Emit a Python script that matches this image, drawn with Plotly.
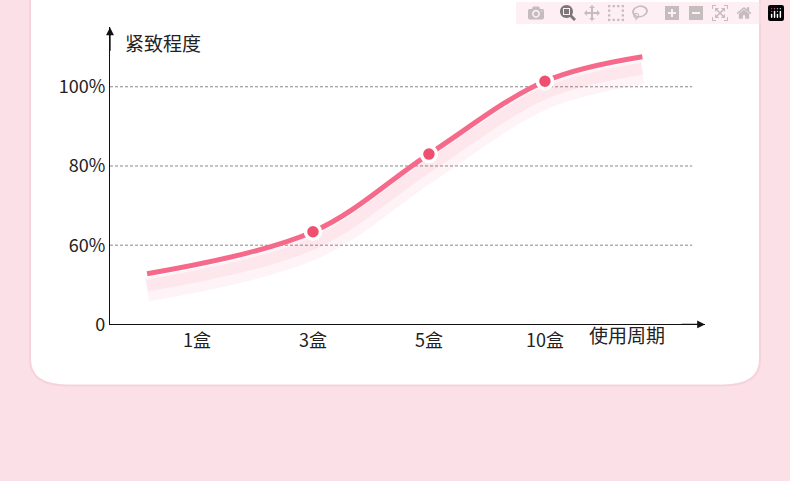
import plotly.graph_objects as go

# data (y in axis "levels": 0 -> 0, 1 -> 60%, 2 -> 80%, 3 -> 100%)
tick_vals = [0, 1, 2, 3]
tick_text = ["0", "60%", "80%", "100%"]
x_pos = [1, 2, 3, 4]
x_labels = ["1盒", "3盒", "5盒", "10盒"]
curve_x = [0.57, 2, 3, 4, 4.84]
curve_y = [0.64, 1.17, 2.15, 3.07, 3.38]
point_x = [2, 3, 4]
point_y = [1.17, 2.15, 3.07]

FONT = "Noto Sans CJK SC"
fig = go.Figure()

# soft shadow under the curve
fig.add_trace(go.Scatter(x=curve_x, y=[v - 0.2 for v in curve_y], mode="lines",
                         line=dict(shape="spline", color="rgba(245,90,125,0.07)", width=24),
                         hoverinfo="skip"))
fig.add_trace(go.Scatter(x=curve_x, y=[v - 0.15 for v in curve_y], mode="lines",
                         line=dict(shape="spline", color="rgba(245,90,125,0.08)", width=12),
                         hoverinfo="skip"))
fig.add_trace(go.Scatter(x=curve_x, y=curve_y, mode="lines",
                         line=dict(shape="spline", color="#f7698a", width=5),
                         hoverinfo="skip"))
fig.add_trace(go.Scatter(x=point_x, y=point_y, mode="markers",
                         marker=dict(size=15, color="#f0506f",
                                     line=dict(color="white", width=3.5))))

shapes = [
    # white card
    dict(type="path", xref="paper", yref="paper", layer="below",
         path="M 0.038 1.05 L 0.038 0.235 Q 0.038 0.18 0.085 0.18 L 0.915 0.18 "
              "Q 0.962 0.18 0.962 0.235 L 0.962 1.05 Z",
         fillcolor="white", line=dict(color="#f6d3dc", width=2)),
]
for v in tick_vals[1:]:
    shapes.append(dict(type="line", xref="x", yref="y", x0=0.25, x1=5.27, y0=v, y1=v,
                       line=dict(color="#888", width=1, dash="3px,2px"), layer="below"))
fig.update_layout(shapes=shapes)

annotations = [
    dict(x=5.38, y=0, xref="x", yref="y", ax=-25, ay=0, text="", showarrow=True,
         arrowhead=2, arrowsize=1.2, arrowwidth=1.3, arrowcolor="#111"),
    dict(x=0.25, y=3.75, xref="x", yref="y", ax=0, ay=25, text="", showarrow=True,
         arrowhead=2, arrowsize=1.2, arrowwidth=1.3, arrowcolor="#111"),
    dict(x=123 / 790, y=(481 - 28) / 481, xref="paper", yref="paper", text="紧致程度",
         showarrow=False, xanchor="left", font=dict(family=FONT, size=19, color="#222")),
    dict(x=667 / 790, y=(481 - 358) / 481, xref="paper", yref="paper", text="使用周期",
         showarrow=False, font=dict(family=FONT, size=19, color="#222")),
]
fig.update_layout(annotations=annotations)

fig.update_layout(
    width=790, height=481, margin=dict(l=0, r=0, t=0, b=0),
    paper_bgcolor="#fbe0e8", plot_bgcolor="rgba(0,0,0,0)", showlegend=False,
    xaxis=dict(domain=[110 / 790, 705 / 790], range=[0.25, 5.38],
               tickvals=x_pos, ticktext=x_labels, showgrid=False, zeroline=False,
               showline=True, linecolor="#111", linewidth=1.3,
               tickfont=dict(family=FONT, size=18, color="#222"), ticklen=8,
               tickcolor="rgba(0,0,0,0)"),
    yaxis=dict(domain=[(481 - 332) / 481, (481 - 28) / 481], range=[0, 3.75],
               tickvals=tick_vals, ticktext=tick_text, showgrid=False, zeroline=False,
               showline=True, linecolor="#111", linewidth=1.3,
               tickfont=dict(family=FONT, size=18, color="#222"), ticklen=4,
               tickcolor="rgba(0,0,0,0)"),
)

fig.write_html("out.html", post_script="document.body.style.margin='0';")
